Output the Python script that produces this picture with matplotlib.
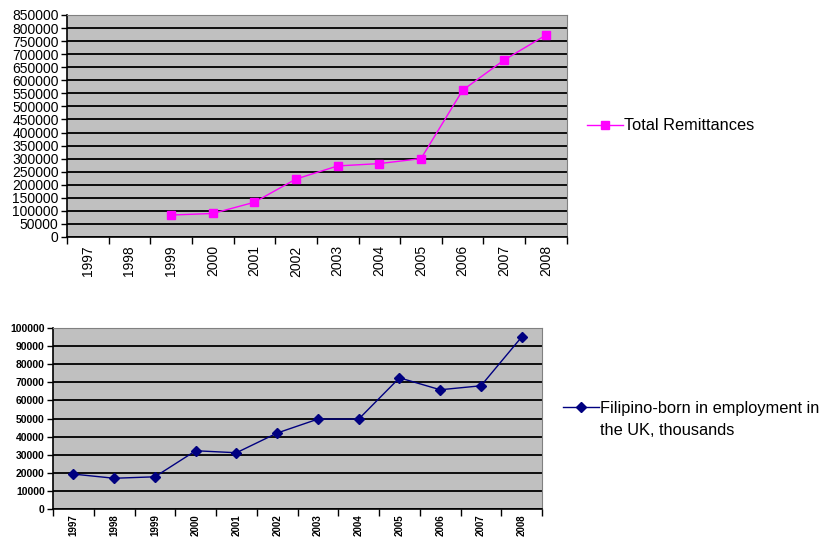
import matplotlib
matplotlib.use('Agg')
import matplotlib.pyplot as plt
from matplotlib.ticker import FixedLocator, NullFormatter

plt.rcParams['font.family'] = ['Liberation Sans', 'DejaVu Sans']

years = ['1997', '1998', '1999', '2000', '2001', '2002',
         '2003', '2004', '2005', '2006', '2007', '2008']
# remittances start in 1999
remit_years = years[2:]
remittances = [84000, 90000, 133000, 222000, 272000, 281000,
               300000, 562000, 678000, 773000]
employment = [19300, 17000, 17800, 32200, 31100, 42000,
              49700, 49700, 72500, 65900, 68100, 95100]

fig = plt.figure(figsize=(8.22, 5.37), dpi=100)


def style_axes(ax, ymax, step, ylab_size, xlab_size, bold=False, xfamily=None):
    ax.set_facecolor('#c0c0c0')
    n = len(years)
    ax.set_xlim(-0.5, n - 0.5)
    ax.set_ylim(0, ymax)
    ax.set_yticks(range(0, ymax + 1, step))
    ax.set_yticklabels([str(v) for v in range(0, ymax + 1, step)],
                       fontsize=ylab_size,
                       fontweight='bold' if bold else 'normal')
    # category labels at centres, tick marks between categories
    ax.set_xticks(range(n))
    lbls = ax.set_xticklabels(years, rotation=90, fontsize=xlab_size,
                              fontweight='bold' if bold else 'normal')
    if xfamily:
        for t in lbls:
            t.set_family(xfamily)
    ax.tick_params(axis='x', which='major', length=0, pad=6)
    ax.xaxis.set_minor_locator(FixedLocator([i - 0.5 for i in range(n + 1)]))
    ax.xaxis.set_minor_formatter(NullFormatter())
    ax.tick_params(axis='x', which='minor', length=5, width=1, direction='out')
    ax.tick_params(axis='y', length=4, width=1, direction='out', pad=2)
    ax.grid(axis='y', color='black', linewidth=1.3)
    ax.set_axisbelow(True)
    for s in ['top', 'right']:
        ax.spines[s].set_color('#808080')
        ax.spines[s].set_linewidth(0.8)
    for s in ['left', 'bottom']:
        ax.spines[s].set_color('black')
        ax.spines[s].set_linewidth(1.2)


# top chart
ax1 = fig.add_axes([0.0815, 0.5587, 0.608, 0.4134])
ax1.plot([years.index(y) for y in remit_years], remittances,
         color='#ff00ff', linewidth=1, marker='s', markersize=6,
         label='Total Remittances')
style_axes(ax1, 850000, 50000, 10, 10)
ax1.legend(loc='center left', bbox_to_anchor=(1.01, 0.5), frameon=False,
           fontsize=11.8, handlelength=2.2, handletextpad=0.1)

# bottom chart
ax2 = fig.add_axes([0.0645, 0.0521, 0.595, 0.337])
ax2.plot(range(len(years)), employment, color='#000080', linewidth=1,
         marker='D', markersize=5,
         label='Filipino-born in employment in')
style_axes(ax2, 100000, 10000, 7.5, 7, bold=True,
           xfamily=['Liberation Sans Narrow', 'Liberation Sans'])
ax2.tick_params(axis='x', which='major', pad=4)
leg2 = ax2.legend(loc='center left', bbox_to_anchor=(1.012, 0.558),
                  frameon=False, fontsize=11.8, handlelength=2.2,
                  handletextpad=0.1)

# second line of the legend label, like the wrapped Excel legend
fig.canvas.draw()
bb = leg2.get_texts()[0].get_window_extent()
x0, y0 = fig.transFigure.inverted().transform((bb.x0, bb.y0 - 22))
fig.text(x0, y0, 'the UK, thousands', fontsize=11.8, ha='left', va='bottom')

fig.savefig('out.png', dpi=100)
